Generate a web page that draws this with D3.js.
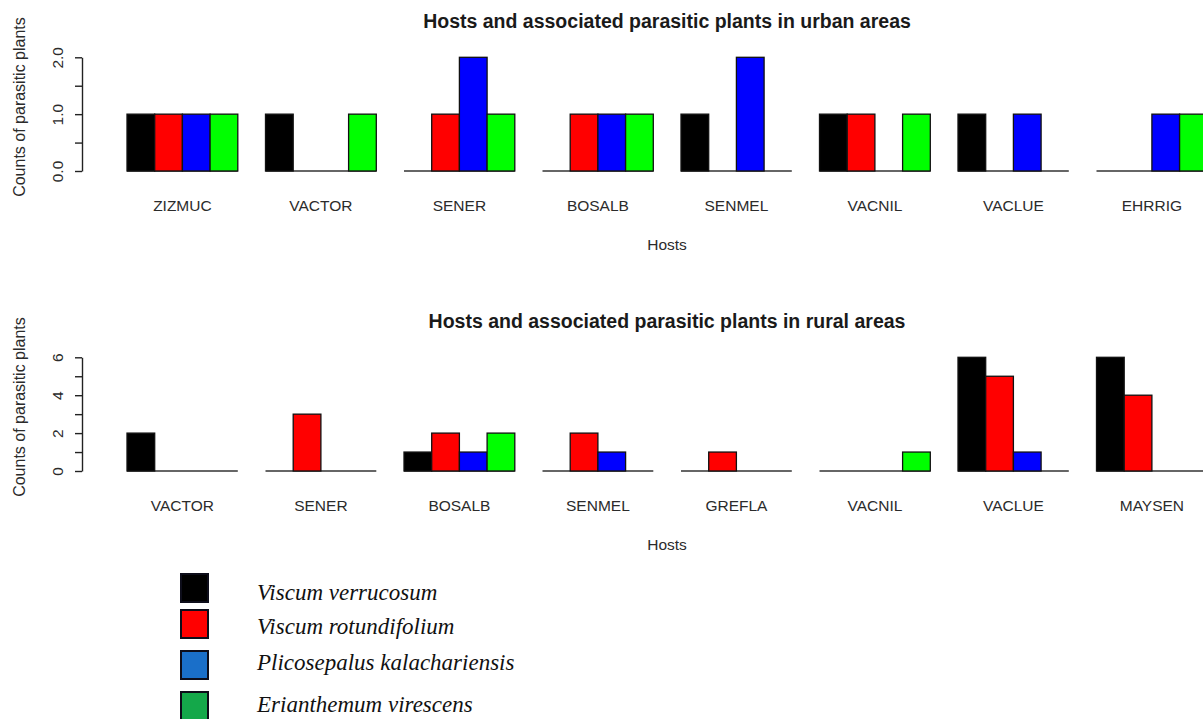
<!DOCTYPE html>
<html>
<head>
<meta charset="utf-8">
<script src="https://cdn.jsdelivr.net/npm/d3@7"></script>
<style>
  html, body { margin: 0; padding: 0; background: #ffffff; }
  svg { display: block; }
</style>
</head>
<body>
<svg id="chart" width="1203" height="719"></svg>
<script>
// Parasitic plant species (bar series) and their fills
const species = ["Viscum verrucosum", "Viscum rotundifolium", "Plicosepalus kalachariensis", "Erianthemum virescens"];
const barColors = ["#000000", "#ff0000", "#0000ff", "#00ff00"];
const legendColors = ["#000000", "#ff0000", "#1a6fc9", "#14a84a"];

// Urban hosts and counts per species (same order as hosts)
const urbanHosts = ["ZIZMUC", "VACTOR", "SENER", "BOSALB", "SENMEL", "VACNIL", "VACLUE", "EHRRIG"];
const urbanVerrucosum   = [1, 1, 0, 0, 1, 1, 1, 0];
const urbanRotundifolium = [1, 0, 1, 1, 0, 1, 0, 0];
const urbanPlicosepalus = [1, 0, 2, 1, 2, 0, 1, 1];
const urbanErianthemum  = [1, 1, 1, 1, 0, 1, 0, 1];

// Rural hosts and counts per species
const ruralHosts = ["VACTOR", "SENER", "BOSALB", "SENMEL", "GREFLA", "VACNIL", "VACLUE", "MAYSEN"];
const ruralVerrucosum   = [2, 0, 1, 0, 0, 0, 6, 6];
const ruralRotundifolium = [0, 3, 2, 2, 1, 0, 5, 4];
const ruralPlicosepalus = [0, 0, 1, 1, 0, 0, 1, 0];
const ruralErianthemum  = [0, 0, 2, 0, 0, 1, 0, 0];

// Axis ticks and their labels
const urbanTicks = [0, 0.5, 1, 1.5, 2];
const urbanTickLabels = ["0.0", "", "1.0", "", "2.0"];
const ruralTicks = [0, 1, 2, 3, 4, 5, 6];
const ruralTickLabels = ["0", "", "2", "", "4", "", "6"];

const svg = d3.select("#chart");
const sans = "'Liberation Sans', Arial, sans-serif";

function panel(opts) {
  const { hosts, series, ticks, tickLabels, yTop, yBottom, title, titleY, labelY, xTitleY, yTitleCenter } = opts;
  const maxVal = ticks[ticks.length - 1];

  const x0 = d3.scaleBand()
    .domain(hosts)
    .range([127, 1207.3])
    .paddingInner(0.2)
    .paddingOuter(0);
  const x1 = d3.scaleBand()
    .domain(species)
    .range([0, x0.bandwidth()])
    .padding(0);
  const y = d3.scaleLinear().domain([0, maxVal]).range([yBottom, yTop]);

  const g = svg.append("g");

  // Title
  g.append("text")
    .attr("x", 667).attr("y", titleY)
    .attr("text-anchor", "middle")
    .attr("font-family", sans)
    .attr("font-weight", "bold")
    .attr("font-size", 19.5)
    .attr("fill", "#1a1a1a")
    .text(title);

  // Groups of bars
  const rows = hosts.map((h, i) => ({ host: h, values: series.map((s, k) => ({ sp: species[k], v: s[i], c: barColors[k] })) }));
  const groups = g.selectAll("g.grp").data(rows).join("g")
    .attr("class", "grp")
    .attr("transform", d => `translate(${x0(d.host)},0)`);

  // Baseline under each group (zero-height bars show as this line)
  groups.append("line")
    .attr("x1", 0).attr("x2", x0.bandwidth())
    .attr("y1", y(0)).attr("y2", y(0))
    .attr("stroke", "#333").attr("stroke-width", 1.6);

  groups.selectAll("rect").data(d => d.values.filter(b => b.v > 0)).join("rect")
    .attr("x", b => x1(b.sp))
    .attr("y", b => y(b.v))
    .attr("width", x1.bandwidth())
    .attr("height", b => y(0) - y(b.v))
    .attr("fill", b => b.c)
    .attr("stroke", "#111")
    .attr("stroke-width", 1.3);

  // Host labels
  groups.append("text")
    .attr("x", x0.bandwidth() / 2)
    .attr("y", labelY)
    .attr("text-anchor", "middle")
    .attr("font-family", sans)
    .attr("font-size", 15.5)
    .attr("fill", "#2b2b2b")
    .text(d => d.host);

  // Y axis
  const axis = d3.axisLeft(y)
    .tickValues(ticks)
    .tickSize(7)
    .tickSizeOuter(0)
    .tickFormat((d, i) => tickLabels[i]);
  const ax = g.append("g").attr("transform", "translate(82,0)").call(axis);
  ax.select(".domain").attr("stroke", "#222").attr("stroke-width", 1.4);
  ax.selectAll(".tick line").attr("stroke", "#222").attr("stroke-width", 1.4);
  ax.selectAll(".tick text")
    .attr("transform", "rotate(-90)")
    .attr("x", 0).attr("y", -19).attr("dy", 0)
    .attr("text-anchor", "middle")
    .attr("font-family", sans)
    .attr("font-size", 15.5)
    .attr("fill", "#2b2b2b");

  // Axis titles
  g.append("text")
    .attr("x", 667).attr("y", xTitleY)
    .attr("text-anchor", "middle")
    .attr("font-family", sans)
    .attr("font-size", 15.5)
    .attr("fill", "#2b2b2b")
    .text("Hosts");
  g.append("text")
    .attr("transform", `translate(25,${yTitleCenter}) rotate(-90)`)
    .attr("text-anchor", "middle")
    .attr("font-family", sans)
    .attr("font-size", 16)
    .attr("fill", "#2b2b2b")
    .text("Counts of parasitic plants");
}

panel({
  hosts: urbanHosts,
  series: [urbanVerrucosum, urbanRotundifolium, urbanPlicosepalus, urbanErianthemum],
  ticks: urbanTicks, tickLabels: urbanTickLabels,
  yTop: 57.3, yBottom: 171,
  title: "Hosts and associated parasitic plants in urban areas",
  titleY: 28, labelY: 210.7, xTitleY: 250, yTitleCenter: 107
});

panel({
  hosts: ruralHosts,
  series: [ruralVerrucosum, ruralRotundifolium, ruralPlicosepalus, ruralErianthemum],
  ticks: ruralTicks, tickLabels: ruralTickLabels,
  yTop: 357.3, yBottom: 471,
  title: "Hosts and associated parasitic plants in rural areas",
  titleY: 328, labelY: 510.7, xTitleY: 550, yTitleCenter: 407
});

// Legend
const legendTops = [574, 610, 651, 692];
const legendBaselines = [600, 634, 670, 712];
const legend = svg.append("g");
species.forEach((s, i) => {
  legend.append("rect")
    .attr("x", 181).attr("y", legendTops[i])
    .attr("width", 27).attr("height", 28)
    .attr("fill", legendColors[i])
    .attr("stroke", "#0d0d1a").attr("stroke-width", 2);
  legend.append("text")
    .attr("x", 257).attr("y", legendBaselines[i])
    .attr("font-family", "'Liberation Serif', 'Times New Roman', serif")
    .attr("font-style", "italic")
    .attr("font-size", 23)
    .attr("fill", "#111")
    .text(s);
});
</script>
</body>
</html>
